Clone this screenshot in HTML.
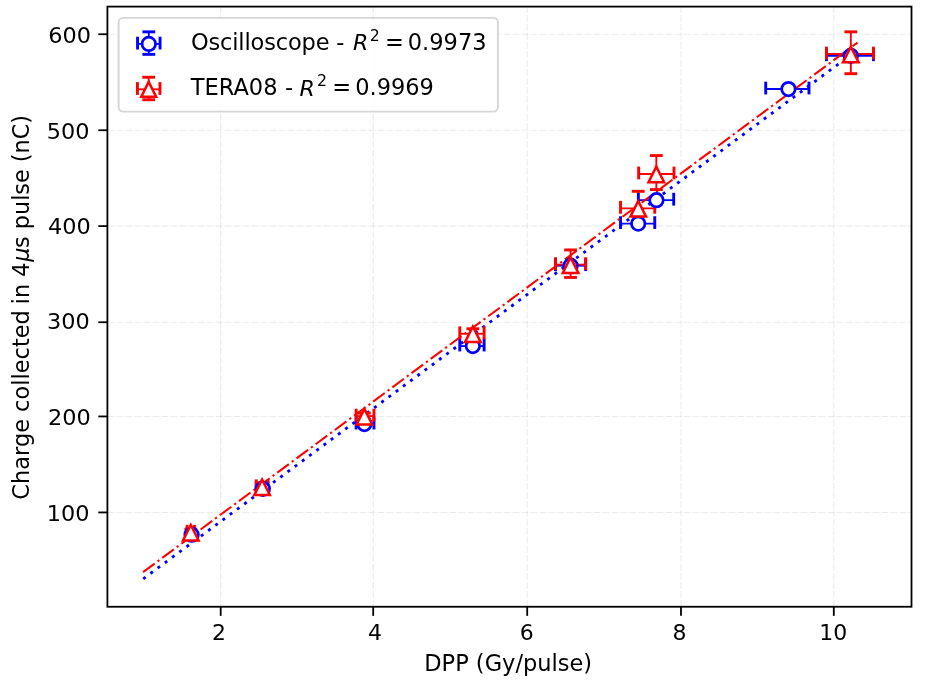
<!DOCTYPE html>
<html lang="en"><head><meta charset="utf-8"><title>Charge collected vs DPP</title>
<style>
html,body{margin:0;padding:0;background:#fff;}
body{width:926px;height:682px;overflow:hidden;}
svg{display:block;}
text{font-family:"DejaVu Sans","Liberation Sans",sans-serif;fill:#000;}
.t{font-size:22.5px;}
.i{font-family:"DejaVu Sans","Liberation Sans",sans-serif;font-style:oblique;}
</style></head><body>
<svg width="926" height="682" viewBox="0 0 926 682">
<rect x="0" y="0" width="926" height="682" fill="#ffffff"/>
<g stroke="#b0b0b0" stroke-opacity="0.24" stroke-width="1.10" stroke-dasharray="7.10 1.90" fill="none">
<line x1="220.70" y1="606.75" x2="220.70" y2="6.60"/>
<line x1="373.20" y1="606.75" x2="373.20" y2="6.60"/>
<line x1="527.20" y1="606.75" x2="527.20" y2="6.60"/>
<line x1="681.00" y1="606.75" x2="681.00" y2="6.60"/>
<line x1="833.80" y1="606.75" x2="833.80" y2="6.60"/>
<line x1="107.40" y1="512.44" x2="911.50" y2="512.44"/>
<line x1="107.40" y1="416.45" x2="911.50" y2="416.45"/>
<line x1="107.40" y1="322.24" x2="911.50" y2="322.24"/>
<line x1="107.40" y1="226.10" x2="911.50" y2="226.10"/>
<line x1="107.40" y1="130.24" x2="911.50" y2="130.24"/>
<line x1="107.40" y1="34.24" x2="911.50" y2="34.24"/>
</g>
<g stroke="#0000ff" stroke-width="1.85" fill="none">
<line x1="187.05" y1="534.72" x2="194.50" y2="534.72"/>
<line x1="256.19" y1="488.82" x2="267.91" y2="488.82"/>
<line x1="356.14" y1="424.07" x2="373.96" y2="424.07"/>
<line x1="459.78" y1="346.03" x2="484.11" y2="346.03"/>
<line x1="555.47" y1="265.69" x2="585.66" y2="265.69"/>
<line x1="620.51" y1="223.61" x2="654.76" y2="223.61"/>
<line x1="638.35" y1="200.18" x2="673.70" y2="200.18"/>
<line x1="765.72" y1="89.04" x2="808.98" y2="89.04"/>
<line x1="826.43" y1="55.76" x2="873.44" y2="55.76"/>
</g>
<g stroke="#ff0000" stroke-width="1.85" fill="none">
<line x1="187.11" y1="532.24" x2="194.51" y2="532.24"/>
<line x1="190.81" y1="529.24" x2="190.81" y2="535.24"/>
<line x1="256.25" y1="486.81" x2="267.93" y2="486.81"/>
<line x1="262.09" y1="482.81" x2="262.09" y2="490.81"/>
<line x1="356.14" y1="416.13" x2="373.96" y2="416.13"/>
<line x1="364.40" y1="413.13" x2="364.40" y2="419.13"/>
<line x1="459.78" y1="333.78" x2="484.11" y2="333.78"/>
<line x1="472.85" y1="328.78" x2="472.85" y2="338.78"/>
<line x1="555.47" y1="264.64" x2="585.66" y2="264.64"/>
<line x1="570.56" y1="249.94" x2="570.56" y2="277.44"/>
<line x1="620.51" y1="208.30" x2="654.76" y2="208.30"/>
<line x1="638.23" y1="191.30" x2="638.23" y2="223.30"/>
<line x1="638.65" y1="173.97" x2="673.99" y2="173.97"/>
<line x1="656.32" y1="155.57" x2="656.32" y2="189.57"/>
<line x1="826.43" y1="54.04" x2="873.44" y2="54.04"/>
<line x1="850.83" y1="31.84" x2="850.83" y2="73.69"/>
</g>
<g stroke="#0000ff" stroke-width="2.90" fill="none">
<line x1="187.05" y1="527.32" x2="187.05" y2="540.12"/>
<line x1="194.50" y1="527.32" x2="194.50" y2="540.12"/>
<line x1="256.19" y1="481.42" x2="256.19" y2="494.22"/>
<line x1="267.91" y1="481.42" x2="267.91" y2="494.22"/>
<line x1="356.14" y1="416.67" x2="356.14" y2="429.47"/>
<line x1="373.96" y1="416.67" x2="373.96" y2="429.47"/>
<line x1="459.78" y1="338.63" x2="459.78" y2="351.43"/>
<line x1="484.11" y1="338.63" x2="484.11" y2="351.43"/>
<line x1="555.47" y1="258.29" x2="555.47" y2="271.09"/>
<line x1="585.66" y1="258.29" x2="585.66" y2="271.09"/>
<line x1="620.51" y1="216.21" x2="620.51" y2="229.01"/>
<line x1="654.76" y1="216.21" x2="654.76" y2="229.01"/>
<line x1="638.35" y1="192.78" x2="638.35" y2="205.58"/>
<line x1="673.70" y1="192.78" x2="673.70" y2="205.58"/>
<line x1="765.72" y1="81.64" x2="765.72" y2="94.44"/>
<line x1="808.98" y1="81.64" x2="808.98" y2="94.44"/>
<line x1="826.43" y1="48.36" x2="826.43" y2="61.16"/>
<line x1="873.44" y1="48.36" x2="873.44" y2="61.16"/>
</g>
<line x1="143.20" y1="578.84" x2="857.50" y2="49.90" stroke="#0000ff" stroke-width="2.85" stroke-dasharray="3.00 5.98" fill="none"/>
<g stroke="#ff0000" stroke-width="2.90" fill="none">
<line x1="187.11" y1="524.84" x2="187.11" y2="537.64"/>
<line x1="194.51" y1="524.84" x2="194.51" y2="537.64"/>
<line x1="184.41" y1="529.24" x2="197.21" y2="529.24"/>
<line x1="184.41" y1="535.24" x2="197.21" y2="535.24"/>
<line x1="256.25" y1="479.41" x2="256.25" y2="492.21"/>
<line x1="267.93" y1="479.41" x2="267.93" y2="492.21"/>
<line x1="255.69" y1="482.81" x2="268.49" y2="482.81"/>
<line x1="255.69" y1="490.81" x2="268.49" y2="490.81"/>
<line x1="356.14" y1="408.73" x2="356.14" y2="421.53"/>
<line x1="373.96" y1="408.73" x2="373.96" y2="421.53"/>
<line x1="358.00" y1="413.13" x2="370.80" y2="413.13"/>
<line x1="358.00" y1="419.13" x2="370.80" y2="419.13"/>
<line x1="459.78" y1="326.38" x2="459.78" y2="339.18"/>
<line x1="484.11" y1="326.38" x2="484.11" y2="339.18"/>
<line x1="466.45" y1="328.78" x2="479.25" y2="328.78"/>
<line x1="466.45" y1="338.78" x2="479.25" y2="338.78"/>
<line x1="555.47" y1="257.24" x2="555.47" y2="270.04"/>
<line x1="585.66" y1="257.24" x2="585.66" y2="270.04"/>
<line x1="564.16" y1="249.94" x2="576.96" y2="249.94"/>
<line x1="564.16" y1="277.44" x2="576.96" y2="277.44"/>
<line x1="620.51" y1="200.90" x2="620.51" y2="213.70"/>
<line x1="654.76" y1="200.90" x2="654.76" y2="213.70"/>
<line x1="631.83" y1="191.30" x2="644.63" y2="191.30"/>
<line x1="631.83" y1="223.30" x2="644.63" y2="223.30"/>
<line x1="638.65" y1="166.57" x2="638.65" y2="179.37"/>
<line x1="673.99" y1="166.57" x2="673.99" y2="179.37"/>
<line x1="649.92" y1="155.57" x2="662.72" y2="155.57"/>
<line x1="649.92" y1="189.57" x2="662.72" y2="189.57"/>
<line x1="826.43" y1="46.64" x2="826.43" y2="59.44"/>
<line x1="873.44" y1="46.64" x2="873.44" y2="59.44"/>
<line x1="844.43" y1="31.84" x2="857.23" y2="31.84"/>
<line x1="844.43" y1="73.69" x2="857.23" y2="73.69"/>
</g>
<line x1="143.06" y1="572.14" x2="857.50" y2="42.60" stroke="#ff0000" stroke-width="2.05" stroke-dasharray="14.42 3.60 2.25 3.60" fill="none"/>
<g stroke="#0000ff" stroke-width="2.75" fill="#ffffff">
<circle cx="191.58" cy="534.72" r="6.75"/>
<circle cx="262.85" cy="488.82" r="6.75"/>
<circle cx="364.40" cy="424.07" r="6.75"/>
<circle cx="472.85" cy="346.03" r="6.75"/>
<circle cx="570.56" cy="265.69" r="6.75"/>
<circle cx="638.23" cy="223.61" r="6.75"/>
<circle cx="656.48" cy="200.18" r="6.75"/>
<circle cx="788.45" cy="89.04" r="6.75"/>
<circle cx="850.83" cy="55.76" r="6.75"/>
</g>
<g stroke="#ff0000" stroke-width="2.50" fill="#ffffff" stroke-linejoin="miter" stroke-miterlimit="10">
<path d="M190.81 524.94L183.01 540.54L198.61 540.54Z"/>
<path d="M262.09 479.51L254.29 495.11L269.89 495.11Z"/>
<path d="M364.40 408.83L356.60 424.43L372.20 424.43Z"/>
<path d="M472.85 326.48L465.05 342.08L480.65 342.08Z"/>
<path d="M570.56 257.34L562.76 272.94L578.36 272.94Z"/>
<path d="M638.23 201.00L630.43 216.60L646.03 216.60Z"/>
<path d="M656.32 166.67L648.52 182.27L664.12 182.27Z"/>
<path d="M850.83 46.74L843.03 62.34L858.63 62.34Z"/>
</g>
<rect x="107.40" y="6.60" width="804.10" height="600.15" fill="none" stroke="#000" stroke-width="1.80" stroke-linejoin="miter"/>
<g stroke="#000" stroke-width="1.80" fill="none">
<line x1="220.70" y1="606.75" x2="220.70" y2="615.85"/>
<line x1="373.20" y1="606.75" x2="373.20" y2="615.85"/>
<line x1="527.20" y1="606.75" x2="527.20" y2="615.85"/>
<line x1="681.00" y1="606.75" x2="681.00" y2="615.85"/>
<line x1="833.80" y1="606.75" x2="833.80" y2="615.85"/>
<line x1="107.40" y1="512.44" x2="98.30" y2="512.44"/>
<line x1="107.40" y1="416.45" x2="98.30" y2="416.45"/>
<line x1="107.40" y1="322.24" x2="98.30" y2="322.24"/>
<line x1="107.40" y1="226.10" x2="98.30" y2="226.10"/>
<line x1="107.40" y1="130.24" x2="98.30" y2="130.24"/>
<line x1="107.40" y1="34.24" x2="98.30" y2="34.24"/>
</g>
<g class="t" text-anchor="middle" style="font-size:22px">
<text transform="translate(219.05 639.85) scale(1 0.96)">2</text>
<text transform="translate(375.00 639.85) scale(1 0.96)">4</text>
<text transform="translate(526.85 639.85) scale(1 0.96)">6</text>
<text transform="translate(679.50 639.85) scale(1 0.96)">8</text>
<text transform="translate(833.20 639.85) scale(1 0.96)">10</text>
</g>
<g class="t" text-anchor="end" style="font-size:22.4px">
<text transform="translate(89.40 521.00) scale(1 0.95)">100</text>
<text transform="translate(90.80 425.00) scale(1 0.95)">200</text>
<text transform="translate(89.80 329.00) scale(1 0.95)">300</text>
<text transform="translate(90.80 233.70) scale(1 0.95)">400</text>
<text transform="translate(89.45 139.00) scale(1 0.95)">500</text>
<text transform="translate(91.10 42.70) scale(1 0.95)">600</text>
</g>
<text class="t" text-anchor="middle" x="508.20" y="670.90">DPP (Gy/pulse)</text>
<text class="t" style="font-size:22.48px" transform="translate(29.30 499.65) rotate(-90)">Charge collected</text>
<text class="t" style="font-size:22.33px" transform="translate(29.30 304.20) rotate(-90)">in 4<tspan class="i" dx="0.9">μ</tspan><tspan dx="-0.5">s pulse (nC)</tspan></text>
<rect x="118.60" y="17.90" width="379.30" height="93.70" rx="4.5" ry="4.5" fill="#ffffff" fill-opacity="0.8" stroke="#cccccc" stroke-opacity="0.8" stroke-width="1.90"/>
<g stroke="#0000ff" fill="none">
<line x1="137.55" y1="43.90" x2="160.05" y2="43.90" stroke-width="1.85"/>
<line x1="148.80" y1="31.85" x2="148.80" y2="54.35" stroke-width="1.85"/>
<line x1="137.55" y1="36.70" x2="137.55" y2="49.50" stroke-width="2.90"/>
<line x1="142.40" y1="31.85" x2="155.20" y2="31.85" stroke-width="2.90"/>
<line x1="160.05" y1="36.70" x2="160.05" y2="49.50" stroke-width="2.90"/>
<line x1="142.40" y1="54.35" x2="155.20" y2="54.35" stroke-width="2.90"/>
<circle cx="148.80" cy="43.90" r="6.75" fill="#fff" stroke-width="2.75"/>
</g>
<g stroke="#ff0000" fill="none">
<line x1="137.45" y1="89.30" x2="159.95" y2="89.30" stroke-width="1.85"/>
<line x1="148.70" y1="77.25" x2="148.70" y2="99.75" stroke-width="1.85"/>
<line x1="137.45" y1="82.10" x2="137.45" y2="94.90" stroke-width="2.90"/>
<line x1="142.30" y1="77.25" x2="155.10" y2="77.25" stroke-width="2.90"/>
<line x1="159.95" y1="82.10" x2="159.95" y2="94.90" stroke-width="2.90"/>
<line x1="142.30" y1="99.75" x2="155.10" y2="99.75" stroke-width="2.90"/>
<path d="M148.70 81.90L141.30 96.70L156.10 96.70Z" fill="#fff" stroke-width="2.50" stroke-miterlimit="10"/>
</g>
<text class="t" x="190.90" y="49.80" textLength="138.60" lengthAdjust="spacing">Oscilloscope</text>
<text class="t" x="336.20" y="49.80">-</text>
<text class="t i" x="352.90" y="50.40" style="font-size:22px">R</text>
<text class="t" x="369.65" y="40.90" style="font-size:15.75px">2</text>
<text class="t" x="384.90" y="49.80">=</text>
<text class="t" x="407.80" y="49.80">0.9973</text>
<text class="t" x="190.80" y="94.90">TERA08</text>
<text class="t" x="285.00" y="94.90">-</text>
<text class="t i" x="299.60" y="95.50" style="font-size:22px">R</text>
<text class="t" x="317.05" y="86.00" style="font-size:15.75px">2</text>
<text class="t" x="332.30" y="94.90">=</text>
<text class="t" x="355.20" y="94.90">0.9969</text>
</svg>
</body></html>
